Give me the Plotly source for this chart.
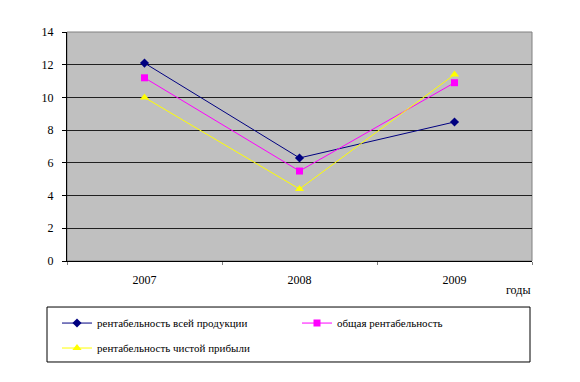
import plotly.graph_objects as go

years = ["2007", "2008", "2009"]
rent_all = [12.1, 6.3, 8.5]
rent_total = [11.2, 5.5, 10.9]
rent_net = [10.0, 4.4, 11.4]
names = ["рентабельность всей продукции", "общая рентабельность", "рентабельность чистой прибыли"]

font = "Times New Roman, Liberation Serif, DejaVu Serif, serif"

fig = go.Figure()
fig.add_trace(go.Scatter(x=years, y=rent_all, name=names[0], mode="lines+markers",
                         line=dict(color="#000080", width=1),
                         marker=dict(symbol="diamond", size=7, color="#000080"), legend="legend"))
fig.add_trace(go.Scatter(x=years, y=rent_total, name=names[1], mode="lines+markers",
                         line=dict(color="#FF00FF", width=1),
                         marker=dict(symbol="square", size=7, color="#FF00FF"), legend="legend"))
fig.add_trace(go.Scatter(x=years, y=rent_net, name=names[2], mode="lines+markers",
                         line=dict(color="#FFFF00", width=1),
                         marker=dict(symbol="triangle-up", size=8, color="#FFFF00"), legend="legend2"))

# plot-area border
fig.add_shape(type="rect", xref="paper", yref="paper", x0=0, x1=1, y0=0, y1=1,
              line=dict(color="#808080", width=1), layer="below")
# legend frame
fig.add_shape(type="rect", xref="paper", yref="paper", x0=-0.043, x1=0.9957, y0=-0.441, y1=-0.201,
              line=dict(color="black", width=1), fillcolor="rgba(0,0,0,0)")

leg_common = dict(orientation="h", xanchor="left", yanchor="middle", borderwidth=0,
                  bgcolor="rgba(0,0,0,0)", font=dict(family=font, size=11),
                  itemwidth=30, entrywidth=195, entrywidthmode="pixels")

fig.update_layout(
    width=572, height=374,
    margin=dict(l=59, r=48, t=24, b=121, autoexpand=False),
    paper_bgcolor="white", plot_bgcolor="#C0C0C0",
    font=dict(family=font, size=12, color="black"),
    showlegend=True,
    legend=dict(x=-0.0215, y=-0.271, **leg_common),
    legend2=dict(x=-0.0215, y=-0.380, **leg_common),
    xaxis=dict(type="category", showgrid=False, showline=True, linecolor="black", linewidth=1,
               ticks="outside", tickson="boundaries", ticklen=3, tickcolor="#808080",
               range=[-0.5, 2.5], tickfont=dict(family=font, size=12), ticklabelstandoff=8),
    yaxis=dict(range=[0, 14], dtick=2, showgrid=True, gridcolor="#202020", gridwidth=1,
               showline=True, linecolor="black", linewidth=1, ticks="outside", ticklen=4,
               tickcolor="black", zeroline=False, tickfont=dict(family=font, size=12),
               ticklabelstandoff=6),
    annotations=[dict(text="годы", xref="paper", yref="paper", x=1.0, y=-0.127,
                      xanchor="right", yanchor="middle", showarrow=False,
                      font=dict(family=font, size=12))],
)

fig.write_html("out.html")
